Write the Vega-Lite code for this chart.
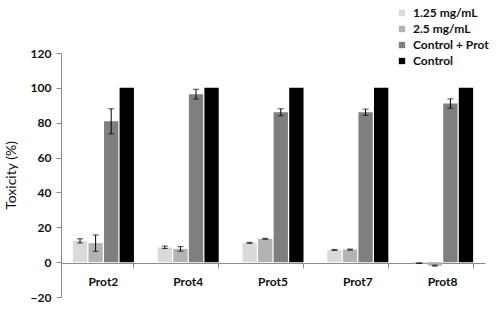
{
  "$schema": "https://vega.github.io/schema/vega-lite/v6.json",
  "width": 424,
  "height": 244,
  "autosize": {"type": "none"},
  "padding": {"left": 61, "top": 53, "right": 15, "bottom": 19},
  "background": "white",
  "config": {
    "view": {"stroke": null},
    "font": "Lato",
    "axis": {"grid": false, "domainColor": "#8c8c8c", "tickColor": "#8c8c8c", "labelFont": "Lato", "labelFontWeight": "bold", "labelFontSize": 12, "labelColor": "#111111"},
    "axisY": {"values": [-20, 0, 20, 40, 60, 80, 100, 120], "labelOverlap": false, "labelFlush": false, "labelBound": false, "titleFont": "Lato", "titleFontSize": 14, "titleFontWeight": "normal", "titleColor": "#111111", "titlePadding": 12, "tickSize": 5, "labelPadding": 5}
  },
  "data": {
    "values": [
      {"protein": "Prot2", "series": "1.25 mg/mL", "value": 12.2, "lo": 11.0, "hi": 13.4},
      {"protein": "Prot2", "series": "2.5 mg/mL", "value": 10.9, "lo": 6.2, "hi": 15.6},
      {"protein": "Prot2", "series": "Control + Prot", "value": 80.8, "lo": 73.6, "hi": 88.0},
      {"protein": "Prot2", "series": "Control", "value": 100},
      {"protein": "Prot4", "series": "1.25 mg/mL", "value": 8.5, "lo": 7.8, "hi": 9.2},
      {"protein": "Prot4", "series": "2.5 mg/mL", "value": 7.6, "lo": 6.3, "hi": 8.9},
      {"protein": "Prot4", "series": "Control + Prot", "value": 96.4, "lo": 93.6, "hi": 99.2},
      {"protein": "Prot4", "series": "Control", "value": 100},
      {"protein": "Prot5", "series": "1.25 mg/mL", "value": 11.1, "lo": 10.8, "hi": 11.4},
      {"protein": "Prot5", "series": "2.5 mg/mL", "value": 13.4, "lo": 13.1, "hi": 13.7},
      {"protein": "Prot5", "series": "Control + Prot", "value": 86.0, "lo": 84.0, "hi": 88.0},
      {"protein": "Prot5", "series": "Control", "value": 100},
      {"protein": "Prot7", "series": "1.25 mg/mL", "value": 7.0, "lo": 6.7, "hi": 7.3},
      {"protein": "Prot7", "series": "2.5 mg/mL", "value": 7.2, "lo": 6.9, "hi": 7.5},
      {"protein": "Prot7", "series": "Control + Prot", "value": 86.0, "lo": 84.2, "hi": 87.8},
      {"protein": "Prot7", "series": "Control", "value": 100},
      {"protein": "Prot8", "series": "1.25 mg/mL", "value": -0.6, "lo": -0.8, "hi": -0.4},
      {"protein": "Prot8", "series": "2.5 mg/mL", "value": -2.0, "lo": -2.3, "hi": -1.7},
      {"protein": "Prot8", "series": "Control + Prot", "value": 91.0, "lo": 88.3, "hi": 93.7},
      {"protein": "Prot8", "series": "Control", "value": 100}
    ]
  },
  "encoding": {
    "x": {
      "field": "protein", "type": "nominal", "sort": null,
      "scale": {"paddingInner": 0.28, "paddingOuter": 0.14},
      "axis": {"title": null, "labelAngle": 0, "offset": -34, "bandPosition": 1, "tickSize": 5, "labelPadding": 8, "ticks": true, "labelOverlap": false}
    },
    "xOffset": {
      "field": "series", "type": "nominal",
      "sort": ["1.25 mg/mL", "2.5 mg/mL", "Control + Prot", "Control"],
      "scale": {"paddingInner": 0.08}
    }
  },
  "layer": [
    {
      "mark": {"type": "bar"},
      "encoding": {
        "y": {
          "field": "value", "type": "quantitative",
          "scale": {"domain": [-20, 120], "nice": false, "zero": false},
          "axis": {"title": "Toxicity (%)"}
        },
        "color": {
          "field": "series", "type": "nominal",
          "sort": ["1.25 mg/mL", "2.5 mg/mL", "Control + Prot", "Control"],
          "scale": {"domain": ["1.25 mg/mL", "2.5 mg/mL", "Control + Prot", "Control"], "range": ["#dadada", "#b3b3b3", "#7f7f7f", "#000000"]},
          "legend": {
            "title": null, "orient": "none", "legendX": 335, "legendY": -46,
            "symbolType": "square", "symbolSize": 40, "symbolStrokeWidth": 0,
            "labelFont": "Lato", "labelFontWeight": "bold", "labelFontSize": 12, "labelColor": "#111111",
            "rowPadding": 4, "labelOffset": 5
          }
        }
      }
    },
    {
      "transform": [{"filter": "datum.series != 'Control'"}],
      "mark": {"type": "rule", "color": "#000000", "strokeWidth": 1},
      "encoding": {
        "y": {"field": "lo", "type": "quantitative", "axis": {"title": "Toxicity (%)"}},
        "y2": {"field": "hi"}
      }
    },
    {
      "transform": [{"filter": "datum.series != 'Control'"}],
      "mark": {"type": "tick", "color": "#000000", "thickness": 1, "size": 6},
      "encoding": {
        "y": {"field": "hi", "type": "quantitative", "axis": {"title": "Toxicity (%)"}}
      }
    },
    {
      "transform": [{"filter": "datum.series != 'Control'"}],
      "mark": {"type": "tick", "color": "#000000", "thickness": 1, "size": 6},
      "encoding": {
        "y": {"field": "lo", "type": "quantitative", "axis": {"title": "Toxicity (%)"}}
      }
    }
  ]
}
